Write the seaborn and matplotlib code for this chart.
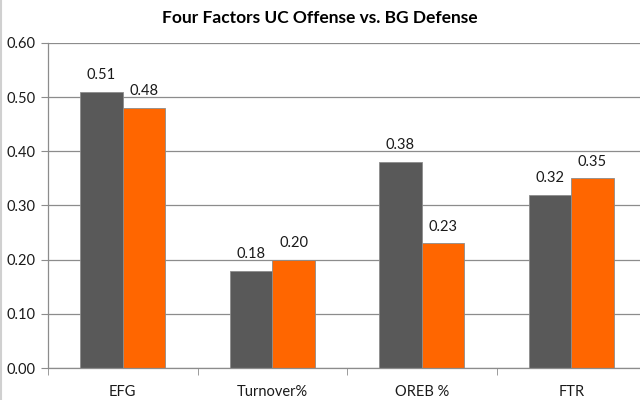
import matplotlib
matplotlib.use("Agg")
import matplotlib.pyplot as plt
import seaborn as sns
import pandas as pd
from matplotlib.lines import Line2D

categories = ["EFG", "Turnover%", "OREB %", "FTR"]
uc_offense = [0.51, 0.18, 0.38, 0.32]
bg_defense = [0.48, 0.20, 0.23, 0.35]
series_names = ["UC Offense", "BG Defense"]
colors = ["#595959", "#FF6600"]
y_ticks = [0.0, 0.1, 0.2, 0.3, 0.4, 0.5, 0.6]

df = pd.DataFrame({
    "factor": categories * 2,
    "value": uc_offense + bg_defense,
    "team": [series_names[0]] * 4 + [series_names[1]] * 4,
})

sns.set_style("white")
plt.rcParams["font.family"] = ["Lato", "DejaVu Sans"]

fig = plt.figure(figsize=(6.4, 4.0), dpi=100)
ax = fig.add_axes([48 / 640, 1 - 368 / 400, 598 / 640, 325 / 400])

sns.barplot(data=df, x="factor", y="value", hue="team", order=categories,
            hue_order=series_names, palette=colors, width=0.57,
            edgecolor="#8c8c8c", linewidth=0.6, saturation=1, ax=ax, legend=False)

# value labels
for cont in ax.containers:
    ax.bar_label(cont, fmt="%.2f", padding=7, fontsize=10.5, color="#1a1a1a")

ax.set_xlim(-0.5, 3.5)
ax.set_ylim(0, 0.6)
ax.set_yticks(y_ticks)
ax.set_yticklabels([f"{t:.2f}" for t in y_ticks], fontsize=10.5, color="#1a1a1a")
ax.yaxis.grid(True, color="#8c8c8c", linewidth=0.9)
ax.set_axisbelow(True)
ax.tick_params(axis="y", length=5, color="#8c8c8c", pad=4, direction="out", left=True)

ax.set_xticks(range(len(categories)))
ax.set_xticklabels(categories, fontsize=10.5, color="#1a1a1a")
ax.tick_params(axis="x", which="major", length=0, pad=12)
ax.set_xticks([-0.5, 0.5, 1.5, 2.5], minor=True)
ax.tick_params(axis="x", which="minor", length=5, color="#8c8c8c", direction="out", bottom=True)

ax.set_xlabel("")
ax.set_ylabel("")
for s in ["top", "right"]:
    ax.spines[s].set_visible(False)
for s in ["left", "bottom"]:
    ax.spines[s].set_color("#8c8c8c")
    ax.spines[s].set_linewidth(0.9)

fig.text(0.5, 1 - 18 / 400, "Four Factors UC Offense vs. BG Defense",
         ha="center", va="center", fontsize=12.5, fontweight="bold", color="#000000")

# light frame on the left edge
fig.add_artist(Line2D([0.001, 0.001], [0, 1], transform=fig.transFigure,
                      color="#d0d0d0", linewidth=1.5))

fig.savefig("out.png", dpi=100, facecolor="white")
